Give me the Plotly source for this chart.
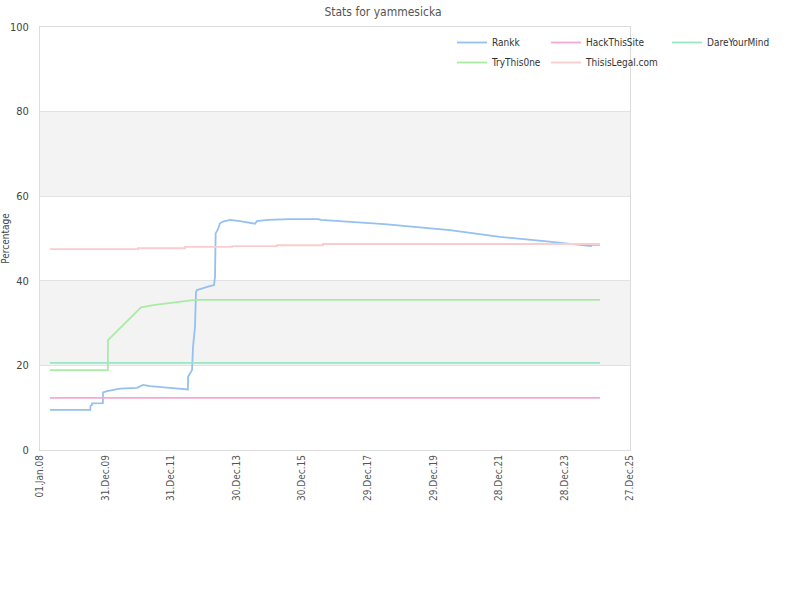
import plotly.graph_objects as go

# ---- data ----
rankk_dates = ["2008-04-21", "2009-07-14", "2009-07-16", "2009-08-01", "2009-08-03", "2009-12-01",
               "2009-12-03", "2010-01-16", "2010-06-10", "2010-12-16", "2011-02-21", "2011-05-10",
               "2011-12-19", "2012-07-05", "2012-07-07", "2012-08-20", "2012-08-31", "2012-09-22",
               "2012-10-03", "2012-10-14", "2013-02-14", "2013-04-22", "2013-05-03", "2013-05-10",
               "2013-06-05", "2013-06-27", "2013-07-31", "2013-10-17", "2014-02-05", "2014-04-24",
               "2014-07-22", "2014-08-13", "2014-12-14", "2015-08-16", "2016-06-23", "2016-07-26",
               "2018-07-01", "2020-07-01", "2022-01-09", "2023-06-16", "2024-05-27", "2024-10-19",
               "2024-10-30", "2025-01-27"]
rankk_vals = [9.5, 9.5, 10.4, 10.6, 11.0, 11.1,
              13.6, 13.9, 14.5, 14.7, 15.4, 15.1,
              14.7, 14.3, 17.3, 18.9, 24.4, 29.1,
              37.4, 37.8, 38.6, 39.0, 41.0, 51.2,
              52.2, 53.6, 54.0, 54.4, 54.1, 53.8,
              53.5, 54.1, 54.4, 54.6, 54.6, 54.4,
              53.4, 52.0, 50.4, 49.3, 48.5, 48.2,
              48.5, 48.5]

hts_dates = ["2008-04-21", "2025-01-27"]
hts_vals = [12.3, 12.3]

dym_dates = ["2008-04-21", "2025-01-27"]
dym_vals = [20.6, 20.6]

try_dates = ["2008-04-21", "2010-01-25", "2010-01-27", "2011-01-30", "2011-07-05", "2011-12-19",
             "2012-07-28", "2012-09-22", "2025-01-27"]
try_vals = [18.9, 18.9, 26.0, 33.7, 34.3, 34.8, 35.3, 35.5, 35.5]

til_dates = ["2008-04-21", "2010-12-27", "2012-06-03", "2013-11-08", "2015-03-24", "2016-08-17",
             "2025-01-27"]
til_vals = [47.5, 47.7, 48.0, 48.2, 48.4, 48.7, 48.7]

tick_dates = ["2008-01-01", "2009-12-31", "2011-12-31", "2013-12-30", "2015-12-30",
              "2017-12-29", "2019-12-29", "2021-12-28", "2023-12-28", "2025-12-27"]
tick_labels = ["01.Jan.08", "31.Dec.09", "31.Dec.11", "30.Dec.13", "30.Dec.15",
               "29.Dec.17", "29.Dec.19", "28.Dec.21", "28.Dec.23", "27.Dec.25"]
y_ticks = [0, 20, 40, 60, 80, 100]
bands = [(20, 40), (60, 80)]

fig = go.Figure()

# name, dates, values, colour, line shape, legend id, legend position (px)
series = [
    ("Rankk", rankk_dates, rankk_vals, "#94c1f2", "linear", "legend", (452, 28)),
    ("HackThisSite", hts_dates, hts_vals, "#f3a9d4", "linear", "legend2", (546, 28)),
    ("DareYourMind", dym_dates, dym_vals, "#97e6c6", "linear", "legend3", (667, 28)),
    ("TryThis0ne", try_dates, try_vals, "#a9eba5", "linear", "legend4", (452, 48)),
    ("ThisisLegal.com", til_dates, til_vals, "#f9cdcd", "hv", "legend5", (546, 48)),
]
legend_layouts = {}
for name, xs, ys, col, shape, lg, (lx, ly) in series:
    fig.add_trace(go.Scatter(x=xs, y=ys, mode="lines", name=name, legend=lg,
                             line=dict(color=col, width=1.8, shape=shape)))
    legend_layouts[lg] = dict(orientation="h", xref="container", yref="container",
                              x=lx/800, y=1-ly/600, xanchor="left", yanchor="top",
                              itemwidth=30, font=dict(size=10, color="#333333"),
                              bgcolor="rgba(0,0,0,0)")

for lo, hi in bands:
    fig.add_shape(type="rect", xref="paper", yref="y", x0=0, x1=1, y0=lo, y1=hi,
                  fillcolor="#f3f3f3", line_width=0, layer="below")

fig.update_layout(
    width=800, height=600,
    margin=dict(l=40, r=170, t=27, b=150, autoexpand=False),
    paper_bgcolor="white", plot_bgcolor="white",
    font=dict(family="DejaVu Sans Condensed, DejaVu Sans", size=11, color="#444444"),
    title=dict(text="Stats for yammesicka", x=383/800, xref="container", xanchor="center",
               y=1-12/600, yref="container", yanchor="middle",
               font=dict(size=12, color="#555555")),
    showlegend=True,
    xaxis=dict(type="date", range=["2008-01-01", "2025-12-27"],
               tickmode="array", tickvals=tick_dates, ticktext=tick_labels,
               tickangle=-90, showgrid=False, zeroline=False,
               showline=True, linecolor="#dcdcdc", linewidth=1, mirror=True,
               ticks="", tickfont=dict(size=10, color="#555555")),
    yaxis=dict(range=[0, 100], tickmode="array", tickvals=y_ticks,
               showgrid=True, gridcolor="#e2e2e2", gridwidth=1, zeroline=False,
               showline=True, linecolor="#dcdcdc", linewidth=1, mirror=True,
               ticks="", ticklabelstandoff=8,
               tickfont=dict(size=11, color="#444444"),
               title=dict(text="Percentage", font=dict(size=10, color="#444444"), standoff=2)),
)
fig.update_layout(**legend_layouts)

fig.write_html("out.html")
